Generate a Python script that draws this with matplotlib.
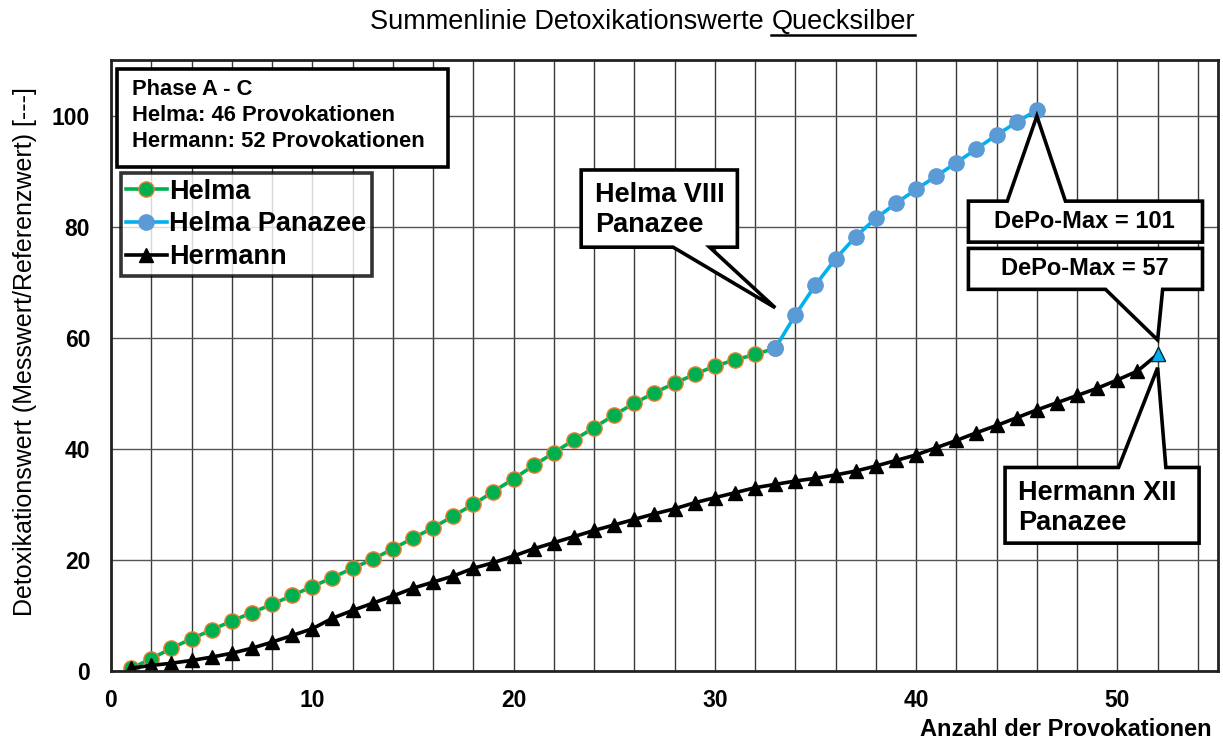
import matplotlib
matplotlib.use("Agg")
import matplotlib.pyplot as plt
from matplotlib.patches import Polygon, Rectangle
from matplotlib.lines import Line2D

plt.rcParams['font.family'] = ['Liberation Sans', 'DejaVu Sans']

# ---- data ----
helma_x = list(range(1, 34))
helma_y = [0.5, 2.2, 4.1, 5.8, 7.4, 9.0, 10.5, 12.0, 13.6, 15.2, 16.8, 18.5, 20.1,
           22.0, 23.9, 25.8, 27.9, 30.0, 32.3, 34.6, 37.0, 39.3, 41.6, 43.8, 46.1,
           48.2, 50.1, 51.8, 53.4, 54.9, 56.0, 57.0, 58.1]
panazee_x = list(range(33, 47))
panazee_y = [58.1, 64.1, 69.5, 74.2, 78.2, 81.5, 84.2, 86.7, 89.1, 91.5, 94.0,
             96.5, 98.8, 101.0]
hermann_x = list(range(1, 53))
hermann_y = [0.5, 1.0, 1.4, 1.9, 2.5, 3.2, 4.1, 5.2, 6.4, 7.6, 9.5, 10.9, 12.2,
             13.5, 14.9, 16.0, 17.1, 18.5, 19.5, 20.7, 22.0, 23.1, 24.2, 25.3,
             26.3, 27.3, 28.3, 29.2, 30.3, 31.2, 32.1, 33.0, 33.6, 34.2, 34.7,
             35.3, 36.0, 36.9, 37.9, 38.9, 40.2, 41.5, 42.9, 44.2, 45.6, 47.0,
             48.3, 49.6, 50.9, 52.4, 54.0, 57.0]
x_ticks = [0, 10, 20, 30, 40, 50]
y_ticks = [0, 20, 40, 60, 80, 100]
legend_labels = ["Helma", "Helma Panazee", "Hermann"]
info_lines = ["Phase A - C", "Helma: 46 Provokationen", "Hermann: 52 Provokationen"]
title_parts = ["Summenlinie Detoxikationswerte ", "Quecksilber"]
y_label = "Detoxikationswert (Messwert/Referenzwert) [---]"
x_label = "Anzahl der Provokationen"

W, H = 1223, 744
fig = plt.figure(figsize=(W / 100, H / 100), dpi=100)
ax = fig.add_axes([111 / W, (H - 671) / H, (1218 - 111) / W, (671 - 60) / H])
ax.set_xlim(0, 55)
ax.set_ylim(0, 110)

# grid
for gx in range(0, 56, 2):
    ax.axvline(gx, color='#3a3a3a', lw=1.0, zorder=1)
for gy in range(0, 101, 20):
    ax.axhline(gy, color='#555555', lw=1.0, zorder=1)

# series
green = '#00B050'
orange = '#ED7D31'
cyan = '#00B0F0'
steel = '#5B9BD5'
ax.plot(helma_x, helma_y, color=green, lw=2.6, marker='o', ms=11,
        mfc=green, mec=orange, mew=1.0, zorder=4)
ax.plot(panazee_x, panazee_y, color=cyan, lw=2.6, marker='o', ms=11,
        mfc=steel, mec=steel, mew=1.0, zorder=5)
ax.plot(hermann_x, hermann_y, color='black', lw=2.6, marker='^', ms=10,
        mfc='black', mec='black', zorder=4)
ax.plot(hermann_x[-1:], hermann_y[-1:], ls='none', marker='^', ms=10,
        mfc=cyan, mec='#003040', mew=0.8, zorder=6)

# axes styling
ax.set_xticks(x_ticks)
ax.set_yticks(y_ticks)
ax.tick_params(length=0, labelsize=16.5)
ax.tick_params(axis='x', pad=13)
ax.tick_params(axis='y', pad=15)
for lab in ax.get_xticklabels() + ax.get_yticklabels():
    lab.set_fontweight('bold')
for s in ax.spines.values():
    s.set_linewidth(2.0)
    s.set_color('#222222')
    s.set_zorder(8)

# info box
ax.add_patch(Rectangle((0.0057, 0.8254), 0.2990, 0.1599, transform=ax.transAxes,
                       facecolor='white', edgecolor='black', lw=2.6, zorder=9))
for i, t in enumerate(info_lines):
    ax.text(0.0187, 0.952 - i * 0.0425, t, transform=ax.transAxes, fontsize=15.8,
            fontweight='bold', va='center', ha='left', zorder=10)

# legend
handles = [
    Line2D([], [], color=green, lw=2.6, marker='o', ms=11, mfc=green, mec=orange),
    Line2D([], [], color=cyan, lw=2.6, marker='o', ms=11, mfc=steel, mec=steel),
    Line2D([], [], color='black', lw=2.6, marker='^', ms=10, mfc='black', mec='black'),
]
leg = ax.legend(handles, legend_labels, loc='upper left',
                bbox_to_anchor=(0.0088, 0.8146), borderaxespad=0,
                prop={'weight': 'bold', 'size': 19.5}, frameon=True, fancybox=False,
                handlelength=1.5, handletextpad=0.1, labelspacing=0.25,
                borderpad=0.2)
leg.get_frame().set_edgecolor('black')
leg.get_frame().set_linewidth(2.6)
leg.set_zorder(10)


def callout(x0, x1, y0, y1, b1, b2, tip, side):
    if side == 'bottom':
        verts = [(x0, y1), (x1, y1), (x1, y0), (b2, y0), tip, (b1, y0), (x0, y0)]
    else:
        verts = [(x0, y1), (b1, y1), tip, (b2, y1), (x1, y1), (x1, y0), (x0, y0)]
    ax.add_patch(Polygon(verts, closed=True, facecolor='white', edgecolor='black',
                         lw=2.6, joinstyle='miter', zorder=9))


# Helma VIII Panazee
callout(23.36, 31.12, 76.3, 90.2, 27.93, 29.74,
        (panazee_x[0], panazee_y[0] + 7.3), 'bottom')
ax.text(24.05, 83.0, "Helma VIII\nPanazee", fontsize=19.5, fontweight='bold',
        ha='left', va='center', linespacing=1.2, zorder=10)

# DePo-Max = 101
callout(42.60, 54.23, 77.21, 84.59, 44.53, 47.42,
        (panazee_x[-1], panazee_y[-1] - 1.1), 'top')
ax.text(48.37, 80.9, "DePo-Max = %d" % round(max(panazee_y)), fontsize=17,
        fontweight='bold', ha='center', va='center', zorder=10)

# DePo-Max = 57
callout(42.60, 54.23, 68.71, 76.08, 49.41, 52.25,
        (hermann_x[-1], hermann_y[-1] + 2.6), 'bottom')
ax.text(48.37, 72.4, "DePo-Max = %d" % round(max(hermann_y)), fontsize=17,
        fontweight='bold', ha='center', va='center', zorder=10)

# Hermann XII Panazee
callout(44.42, 54.06, 23.02, 36.64, 50.06, 52.41,
        (hermann_x[-1], hermann_y[-1] - 2.4), 'top')
ax.text(45.08, 29.4, "Hermann XII\nPanazee", fontsize=19.5, fontweight='bold',
        ha='left', va='center', linespacing=1.2, zorder=10)

# axis labels
fig.text(25 / W, 1 - 352 / H, y_label, rotation=90, fontsize=18,
         ha='center', va='center')
fig.text(1211.7 / W, 1 - 730 / H, x_label, fontsize=17, fontweight='bold',
         ha='right', va='center')

# title with underlined last word
fig.canvas.draw()
r = fig.canvas.get_renderer()
t1 = fig.text(0, 1 - 22 / H, title_parts[0], fontsize=19.5, ha='left', va='center')
t2 = fig.text(0, 1 - 22 / H, title_parts[1], fontsize=19.5, ha='left', va='center')
w1 = t1.get_window_extent(r).width
w2 = t2.get_window_extent(r).width
start = 642.5 - (w1 + w2) / 2
t1.set_x(start / W)
t2.set_x((start + w1) / W)
fig.add_artist(Line2D([(start + w1) / W, (start + w1 + w2) / W],
                      [1 - 35 / H, 1 - 35 / H], color='black', lw=1.8,
                      transform=fig.transFigure))

fig.savefig("out.png", dpi=100)
